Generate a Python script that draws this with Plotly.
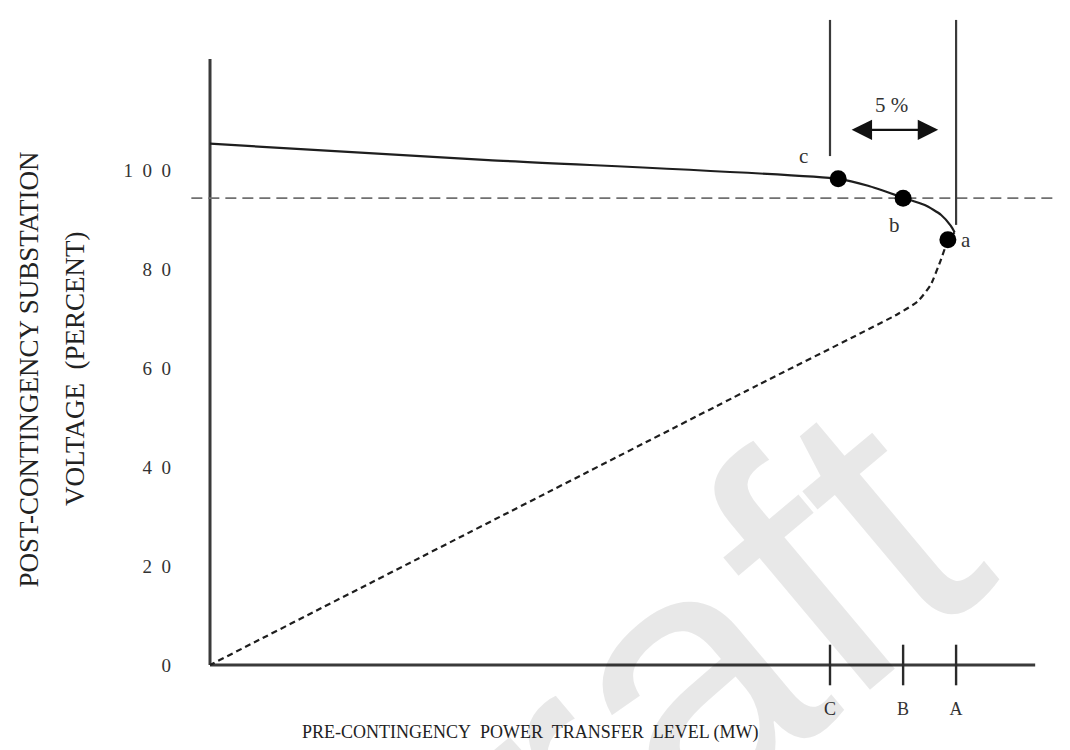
import plotly.graph_objects as go

# ---- data ----
upper_x = [0, 37.3, 84.2, 88.2, 92.9, 95.8, 98.0, 99.3, 99.8]
upper_y = [105.3, 102.0, 98.2, 96.8, 94.4, 92.9, 90.9, 88.7, 87.4]

lower_x = [99.8, 98.9, 97.9, 96.6, 94.9, 92.2, 73.5, 0]
lower_y = [87.4, 85.7, 81.6, 76.8, 73.5, 70.9, 56.6, 0]

point_names = ["a", "b", "c"]
point_x = [98.9, 92.9, 84.2]
point_y = [85.9, 94.3, 98.2]

tick_names = ["C", "B", "A"]
tick_x = [83.1, 92.9, 100.0]

y_tickvals = [0, 20, 40, 60, 80, 100]
y_ticktext = ["0", "2\u20020", "4\u20020", "6\u20020", "8\u20020", "1\u20020\u20020"]

limit_voltage = 94.3
axis_x_end = 110.6
axis_y_end = 122.4
vline_top = 130.3
vline_c_bottom = 102.8
vline_a_bottom = 88.9
hline_x = [-2.5, 113.3]

SERIF = "Liberation Serif, Times New Roman, serif"
INK = "#1e1e1e"

fig = go.Figure()

# axes drawn as lines
fig.add_trace(go.Scatter(x=[0, 0], y=[0, axis_y_end], mode="lines",
                         line=dict(color="#3a3a3a", width=3), hoverinfo="skip"))
fig.add_trace(go.Scatter(x=[0, axis_x_end], y=[0, 0], mode="lines",
                         line=dict(color="#3a3a3a", width=3), hoverinfo="skip"))

# horizontal dashed voltage limit
fig.add_trace(go.Scatter(x=hline_x, y=[limit_voltage, limit_voltage], mode="lines",
                         line=dict(color="#707070", width=1.6, dash="11px,6px"),
                         hoverinfo="skip"))

# vertical lines at C and A
fig.add_trace(go.Scatter(x=[tick_x[0], tick_x[0]], y=[vline_c_bottom, vline_top], mode="lines",
                         line=dict(color="#3a3a3a", width=2.2), hoverinfo="skip"))
fig.add_trace(go.Scatter(x=[tick_x[2], tick_x[2]], y=[vline_a_bottom, vline_top], mode="lines",
                         line=dict(color="#3a3a3a", width=2.2), hoverinfo="skip"))

# PV curve: upper (solid) and lower (dashed) branches
fig.add_trace(go.Scatter(x=upper_x, y=upper_y, mode="lines",
                         line=dict(color=INK, width=2.2, shape="spline", smoothing=0.6),
                         hoverinfo="skip"))
fig.add_trace(go.Scatter(x=lower_x, y=lower_y, mode="lines",
                         line=dict(color=INK, width=2.2, dash="6px,4px", shape="spline", smoothing=0.5),
                         hoverinfo="skip"))

# points a, b, c
fig.add_trace(go.Scatter(x=point_x, y=point_y, mode="markers",
                         marker=dict(color="black", size=17, symbol="circle"),
                         cliponaxis=False, hoverinfo="skip"))

# tick marks on x axis
fig.add_trace(go.Scatter(x=tick_x, y=[0] * len(tick_x), mode="markers",
                         marker=dict(symbol="line-ns-open", size=29, color="#2a2a2a",
                                     line=dict(color="#2a2a2a", width=2.4)),
                         cliponaxis=False, hoverinfo="skip"))

annotations = []

# watermark (paper coordinates so it is never hidden)
annotations.append(dict(xref="paper", yref="paper", x=0.489, y=-0.095, text="Draft",
                        xanchor="center", yanchor="middle",
                        showarrow=False, textangle=-40,
                        font=dict(family="Liberation Sans, Arial, sans-serif", size=370,
                                  color="rgba(0,0,0,0.09)")))

label_offsets = {"a": (2.4, 0.0), "b": (-1.2, -5.4), "c": (-4.7, 4.6)}
for n, x, y in zip(point_names, point_x, point_y):
    dx, dy = label_offsets[n]
    annotations.append(dict(x=x + dx, y=y + dy, text=n, showarrow=False,
                            font=dict(family=SERIF, size=21, color="#333")))

# 5 % double arrow
annotations.append(dict(x=97.6, y=108.1, ax=85.8, ay=108.1, axref="x", ayref="y",
                        xref="x", yref="y", text="", showarrow=True,
                        arrowhead=2, arrowside="end+start", arrowsize=1.7,
                        arrowwidth=2.4, arrowcolor="#111"))
annotations.append(dict(x=91.3, y=113.2, text="5 %", showarrow=False,
                        font=dict(family=SERIF, size=21, color="#333")))

# axis titles
annotations.append(dict(xref="paper", yref="paper", x=0.396, y=-0.106,
                        text="PRE-CONTINGENCY\u00a0 POWER\u00a0 TRANSFER\u00a0 LEVEL (MW)",
                        showarrow=False, font=dict(family=SERIF, size=18, color="#222")))
annotations.append(dict(xref="paper", yref="paper", x=-0.167, y=0.462, text="POST-CONTINGENCY SUBSTATION",
                        xanchor="center", yanchor="middle",
                        textangle=-90, showarrow=False, font=dict(family=SERIF, size=27, color="#222")))
annotations.append(dict(xref="paper", yref="paper", x=-0.116, y=0.462, text="VOLTAGE\u00a0 (PERCENT)",
                        xanchor="center", yanchor="middle",
                        textangle=-90, showarrow=False, font=dict(family=SERIF, size=27, color="#222")))

fig.update_layout(
    width=1070, height=750,
    margin=dict(l=170, r=10, t=5, b=83),
    plot_bgcolor="white", paper_bgcolor="white",
    showlegend=False,
    annotations=annotations,
    xaxis=dict(range=[-4.29, 115.0], showgrid=False, zeroline=False, showline=False,
               tickmode="array", tickvals=tick_x, ticktext=tick_names, ticks="",
               ticklabelstandoff=21,
               tickfont=dict(family=SERIF, size=18, color="#333")),
    yaxis=dict(range=[-2.02, 131.7], showgrid=False, zeroline=False, showline=False,
               tickmode="array", tickvals=y_tickvals, ticktext=y_ticktext, ticks="",
               ticklabelstandoff=6,
               tickfont=dict(family=SERIF, size=19, color="#333")),
)

fig.write_html("out.html")
